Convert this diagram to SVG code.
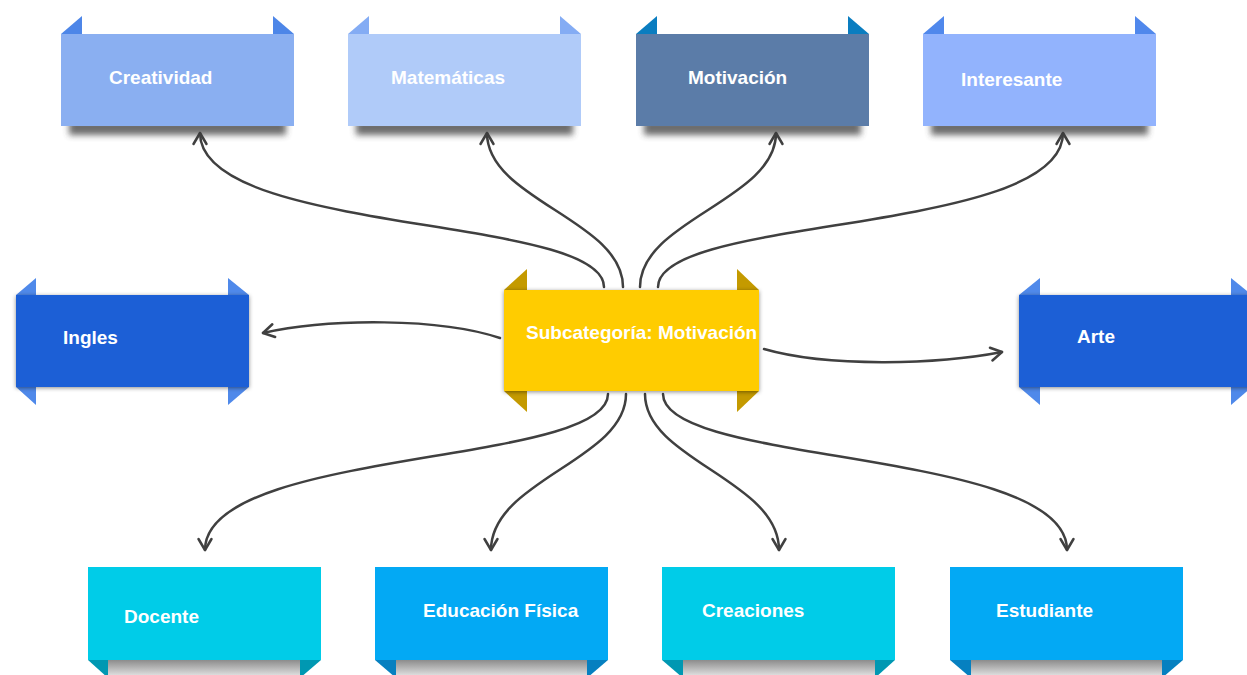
<svg xmlns="http://www.w3.org/2000/svg" width="1247" height="675" viewBox="0 0 1247 675">
<defs>
<style>
.t{font-family:"Liberation Sans",Arial,sans-serif;font-weight:bold;font-size:19px;fill:#ffffff}
.c{fill:none;stroke:#404040;stroke-width:2.5;stroke-linecap:round}
.sh{fill:#3a3a3a;opacity:0.75;filter:url(#blur)}
.shb{fill:url(#gb)}
.ds{filter:url(#ds)}
</style>
<linearGradient id="gb" x1="0" y1="0" x2="0" y2="1">
<stop offset="0" stop-color="#8c8c8c"/>
<stop offset="1" stop-color="#dcdcdc"/>
</linearGradient>
<filter id="blur" x="-20%" y="-100%" width="140%" height="300%"><feGaussianBlur stdDeviation="3.2"/></filter>
<filter id="ds" x="-10%" y="-20%" width="120%" height="140%"><feDropShadow dx="0" dy="1" stdDeviation="2" flood-color="#000" flood-opacity="0.45"/></filter>
<marker id="ah" markerUnits="userSpaceOnUse" markerWidth="20" markerHeight="20" viewBox="-14 -10 18 20" refX="0" refY="0" orient="auto">
<path d="M-11,-6.5 L0,0 L-11,6.5" fill="none" stroke="#404040" stroke-width="2.5" stroke-linecap="round" stroke-linejoin="round"/>
</marker>
</defs>
<rect width="1247" height="675" fill="#ffffff"/>

<g id="connectors">
<path class="c" d="M604,287 C604,215 200,235 200,133" marker-end="url(#ah)"/>
<path class="c" d="M623,287 C623,220 487,200 487,133" marker-end="url(#ah)"/>
<path class="c" d="M640,287 C640,220 776,200 776,133" marker-end="url(#ah)"/>
<path class="c" d="M658,287 C658,215 1063,235 1063,133" marker-end="url(#ah)"/>
<path class="c" d="M608,394 C608,466 205,448 205,550" marker-end="url(#ah)"/>
<path class="c" d="M626,394 C626,460 491,480 491,550" marker-end="url(#ah)"/>
<path class="c" d="M645,394 C645,460 779,480 779,550" marker-end="url(#ah)"/>
<path class="c" d="M663,394 C663,466 1067,448 1067,550" marker-end="url(#ah)"/>
<path class="c" d="M500,338 C440,318 330,318 263,333" marker-end="url(#ah)"/>
<path class="c" d="M764,349 C830,368 940,364 1002,352" marker-end="url(#ah)"/>
</g>

<g id="n-creatividad">
<rect class="sh" x="69" y="120" width="217" height="15"/>
<polygon points="61,34 82,16 82,34" fill="#4D86E8"/>
<polygon points="273,16 273,34 294,34" fill="#4D86E8"/>
<rect x="61" y="34" width="233" height="92" fill="#8AAFF1"/>
<text class="t" x="109" y="84">Creatividad</text>
</g>

<g id="n-matematicas">
<rect class="sh" x="356" y="120" width="217" height="15"/>
<polygon points="348,34 369,16 369,34" fill="#84ACF4"/>
<polygon points="560,16 560,34 581,34" fill="#84ACF4"/>
<rect x="348" y="34" width="233" height="92" fill="#B0CBF9"/>
<text class="t" x="391" y="84">Matemáticas</text>
</g>

<g id="n-motivacion">
<rect class="sh" x="644" y="120" width="217" height="15"/>
<polygon points="636,34 657,16 657,34" fill="#0A7DC0"/>
<polygon points="848,16 848,34 869,34" fill="#0A7DC0"/>
<rect x="636" y="34" width="233" height="92" fill="#5B7CA8"/>
<text class="t" x="688" y="84">Motivación</text>
</g>

<g id="n-interesante">
<rect class="sh" x="931" y="120" width="217" height="15"/>
<polygon points="923,34 944,16 944,34" fill="#5088EC"/>
<polygon points="1135,16 1135,34 1156,34" fill="#5088EC"/>
<rect x="923" y="34" width="233" height="92" fill="#92B3FD"/>
<text class="t" x="961" y="86">Interesante</text>
</g>

<g id="n-ingles">
<polygon points="16,295 36,278 36,295" fill="#4F89EA"/>
<polygon points="228,278 228,295 249,295" fill="#4F89EA"/>
<polygon points="16,387 36,405 36,387" fill="#4F89EA"/>
<polygon points="228,387 228,405 249,387" fill="#4F89EA"/>
<rect class="ds" x="16" y="295" width="233" height="92" fill="#1A5ED6"/>
<text class="t" x="63" y="344">Ingles</text>
</g>

<g id="n-arte">
<polygon points="1019,295 1040,278 1040,295" fill="#4F89EA"/>
<polygon points="1231,278 1231,295 1252,295" fill="#4F89EA"/>
<polygon points="1019,387 1040,405 1040,387" fill="#4F89EA"/>
<polygon points="1231,387 1231,405 1252,387" fill="#4F89EA"/>
<rect class="ds" x="1019" y="295" width="233" height="92" fill="#1A5ED6"/>
<text class="t" x="1077" y="343">Arte</text>
</g>

<g id="n-center">
<polygon points="504,290 527,269 527,290" fill="#C49A00"/>
<polygon points="737,269 737,290 759,290" fill="#C49A00"/>
<polygon points="504,391 527,412 527,391" fill="#C49A00"/>
<polygon points="737,391 737,412 759,391" fill="#C49A00"/>
<rect class="ds" x="504" y="290" width="255" height="101" fill="#FFCC00"/>
<text class="t" x="526" y="339">Subcategoría: Motivación</text>
</g>

<g id="n-docente">
<rect class="shb" x="108" y="660" width="192" height="15"/>
<polygon points="88,660 108,678 108,660" fill="#0098B2"/>
<polygon points="300,660 300,678 321,660" fill="#0098B2"/>
<rect x="88" y="567" width="233" height="93" fill="#00CCE8"/>
<text class="t" x="124" y="623">Docente</text>
</g>

<g id="n-educacion">
<rect class="shb" x="396" y="660" width="191" height="15"/>
<polygon points="375,660 396,678 396,660" fill="#0680C0"/>
<polygon points="587,660 587,678 608,660" fill="#0680C0"/>
<rect x="375" y="567" width="233" height="93" fill="#03A9F4"/>
<text class="t" x="423" y="617">Educación Física</text>
</g>

<g id="n-creaciones">
<rect class="shb" x="683" y="660" width="192" height="15"/>
<polygon points="662,660 683,678 683,660" fill="#0098B2"/>
<polygon points="875,660 875,678 895,660" fill="#0098B2"/>
<rect x="662" y="567" width="233" height="93" fill="#00CCE8"/>
<text class="t" x="702" y="617">Creaciones</text>
</g>

<g id="n-estudiante">
<rect class="shb" x="971" y="660" width="191" height="15"/>
<polygon points="950,660 971,678 971,660" fill="#0680C0"/>
<polygon points="1162,660 1162,678 1183,660" fill="#0680C0"/>
<rect x="950" y="567" width="233" height="93" fill="#03A9F4"/>
<text class="t" x="996" y="617">Estudiante</text>
</g>
</svg>
